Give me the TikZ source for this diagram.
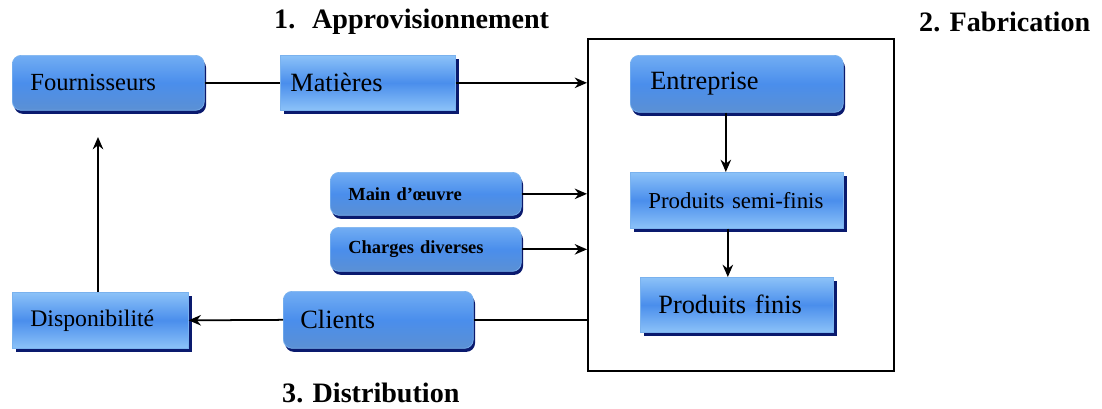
\documentclass[tikz,border=0pt]{standalone}
\usepackage{fontspec}
\setmainfont{Liberation Serif}
\usetikzlibrary{arrows.meta,shadows}

\definecolor{boxmid}{HTML}{4A8EEC}
\definecolor{boxlight}{HTML}{8CC2F8}
\definecolor{boxround}{HTML}{5B90D4}
\definecolor{boxedge}{HTML}{7AB2EE}
\definecolor{boxshadow}{HTML}{0A1A6E}

\tikzset{
  rbox/.style={draw=boxedge, line width=.4pt, rounded corners=5pt, anchor=north west,
    top color=boxlight!60!boxmid, bottom color=boxround, middle color=boxmid,
    drop shadow={shadow xshift=1pt, shadow yshift=-2pt, fill=boxshadow, opacity=1},
    inner xsep=0.36cm, align=left},
  sbox/.style={draw=boxedge, line width=.4pt, anchor=north west,
    top color=boxlight, bottom color=boxlight, middle color=boxmid,
    drop shadow={shadow xshift=2pt, shadow yshift=-2pt, fill=boxshadow, opacity=1},
    inner xsep=0.36cm, align=left},
  title/.style={font=\fontsize{16}{18}\selectfont\bfseries},
  link/.style={line width=1pt},
  arr/.style={line width=1pt, -{Stealth[length=7pt,width=6pt]}}
}

\begin{document}
\begin{tikzpicture}[x=0.02cm, y=-0.02cm]
\useasboundingbox (0,0) rectangle (1102,409);
% titles
\node[title, anchor=west] (t1) at (268,22) {1.\hspace{0.6em}Approvisionnement};
\node[title, anchor=west] (t2) at (913,22) {2. Fabrication};
\node[title, anchor=west] (t3) at (276,393) {3. Distribution};
% fabrication frame
\node[draw, line width=1.2pt, anchor=north west, minimum width=6.12cm, minimum height=6.64cm] (fab) at (587,38) {};
% boxes
\node[rbox, minimum width=3.84cm, minimum height=1.1cm, text width=3.12cm, font=\fontsize{14}{16}\selectfont] (four) at (12,55) {Fournisseurs};
\node[sbox, minimum width=3.5cm, minimum height=1.1cm, text width=3.1cm, inner xsep=0.2cm, font=\fontsize{15}{17}\selectfont] (mat) at (280,55) {Matières};
\node[rbox, minimum width=4.26cm, minimum height=1.14cm, text width=3.46cm, inner xsep=0.4cm, font=\fontsize{15}{17}\selectfont] (entr) at (630,55) {Entreprise};
\node[sbox, minimum width=4.26cm, minimum height=1.12cm, text width=3.54cm, font=\fontsize{13}{15}\selectfont] (semi) at (630,172) {Produits semi-finis};
\node[sbox, minimum width=3.86cm, minimum height=1.1cm, text width=3.14cm, font=\fontsize{15}{17}\selectfont] (finis) at (640,277) {Produits finis};
\node[rbox, minimum width=3.82cm, minimum height=0.86cm, text width=3.1cm, font=\fontsize{10.5}{12}\selectfont\bfseries] (main) at (330,172) {Main d'œuvre};
\node[rbox, minimum width=3.82cm, minimum height=0.88cm, text width=3.1cm, font=\fontsize{10.5}{12}\selectfont\bfseries] (charg) at (330,227) {Charges diverses};
\node[rbox, minimum width=3.8cm, minimum height=1.14cm, text width=3.12cm, inner xsep=0.34cm, font=\fontsize{15}{17}\selectfont] (cli) at (283,291) {Clients};
\node[sbox, minimum width=3.52cm, minimum height=1.12cm, text width=2.8cm, font=\fontsize{13.5}{15}\selectfont] (dispo) at (12,292) {Disponibilité};
\coordinate (back) at (98,137);
% connectors
\draw[link] (four.east) -- (mat.west);
\draw[arr] (mat.east) -- (mat.east -| fab.west);
\draw[arr] ([xshift=-0.22cm]entr.south) -- ([xshift=-0.22cm]entr.south |- semi.north);
\draw[arr] ([xshift=-0.18cm]semi.south) -- ([xshift=-0.18cm]semi.south |- finis.north);
\draw[arr] (main.east) -- (main.east -| fab.west);
\draw[arr] (charg.east) -- (charg.east -| fab.west);
\draw[link] (cli.east) -- (cli.east -| fab.west);
\draw[arr] (cli.west) -- (dispo.east);
\draw[arr] (dispo.north -| back) -- (back);
\end{tikzpicture}
\end{document}
